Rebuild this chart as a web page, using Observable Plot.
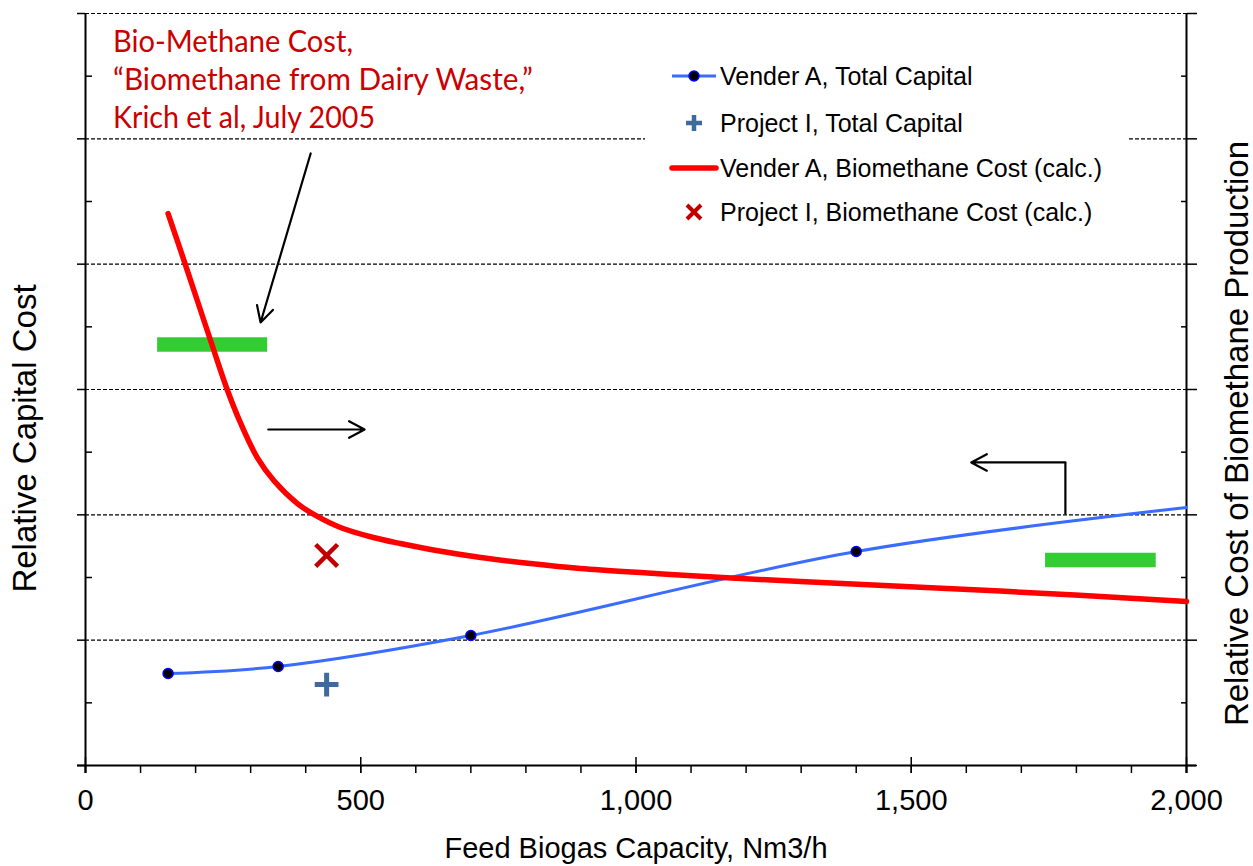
<!DOCTYPE html>
<html>
<head>
<meta charset="utf-8">
<script src="https://cdn.jsdelivr.net/npm/d3@7"></script>
<script src="https://cdn.jsdelivr.net/npm/@observablehq/plot@0.6"></script>
<style>
  html, body { margin: 0; padding: 0; background: #fff; }
  #wrap { position: relative; width: 1253px; height: 866px; }
</style>
</head>
<body>
<div id="wrap"></div>
<script>
// ---------- data ----------
// Vendor A, total capital (blue line with markers)
const vendorCapacity = [150, 350, 700, 1400];
const vendorCapital  = [0.734, 0.790, 1.037, 1.707];
// blue line also runs on to the right edge
const capitalLineX = [150, 350, 700, 1400, 2000];
const capitalLineY = [0.734, 0.790, 1.037, 1.707, 2.059];

// Vendor A, biomethane cost (calc.) – red curve
const costCurveX = [150, 182, 229, 258, 282, 312, 342, 385, 418, 463, 523, 572, 627, 718, 808, 899, 1021, 1141, 1299, 1662, 2000];
const costCurveY = [4.404, 3.989, 3.367, 2.992, 2.729, 2.457, 2.274, 2.090, 1.995, 1.899, 1.819, 1.771, 1.724, 1.660, 1.612, 1.572, 1.536, 1.504, 1.468, 1.392, 1.309];

// Project I
const projectCapacity = [438];
const projectCapital  = [0.646];
const projectCost     = [1.676];

// Literature ranges (green bars)
const litX1 = [131, 1744];
const litX2 = [331, 1945];
const litY  = [3.359, 1.640];

// Annotation arrows
const arrowX1 = [409, 332, 1780];
const arrowY1 = [4.883, 2.681, 2.418];
const arrowX2 = [318, 507, 1609];
const arrowY2 = [3.535, 2.681, 2.418];
const connectorX = [1780];
const connectorY1 = [2.003];
const connectorY2 = [2.418];

// Axis ticks
const xMajorTicks = [0, 500, 1000, 1500, 2000];
const xMinorTicks = [0, 100, 200, 300, 400, 500, 600, 700, 800, 900, 1000, 1100, 1200, 1300, 1400, 1500, 1600, 1700, 1800, 1900, 2000];
const yMajorTicks = [0, 1, 2, 3, 4, 5, 6];
const yMinorTicks = [0.5, 1.5, 2.5, 3.5, 4.5, 5.5];
const gridLines   = [1, 2, 3, 4, 5, 6];

// Texts
const xTitle  = "Feed Biogas Capacity, Nm3/h";
const yTitle  = "Relative Capital Cost";
const y2Title = "Relative Cost of Biomethane Production";
const noteLines = ["Bio-Methane Cost,", "\u201CBiomethane from Dairy Waste,\u201D", "Krich et al, July 2005"];
const legendLabels = ["Vender A, Total Capital", "Project I, Total Capital", "Vender A, Biomethane Cost (calc.)", "Project I, Biomethane Cost (calc.)"];

// ---------- tables ----------
const vendorPts = vendorCapacity.map((x, i) => ({x, y: vendorCapital[i]}));
const capLine = capitalLineX.map((x, i) => ({x, y: capitalLineY[i]}));
const costLine = costCurveX.map((x, i) => ({x, y: costCurveY[i]}));
const projCap = projectCapacity.map((x, i) => ({x, y: projectCapital[i]}));
const projCost = projectCapacity.map((x, i) => ({x, y: projectCost[i]}));
const litBars = litX1.map((x1, i) => ({x1, x2: litX2[i], y: litY[i]}));
const arrows = arrowX1.map((x1, i) => ({x1, y1: arrowY1[i], x2: arrowX2[i], y2: arrowY2[i]}));
const connectors = connectorX.map((x, i) => ({x, y1: connectorY1[i], y2: connectorY2[i]}));

const FONT = "Liberation Sans, Arial, sans-serif";
const BLUE = "#3a6cff";
const RED = "#ff0000";
const fmtComma = d3.format(",");

const chart = Plot.plot({
  width: 1253,
  height: 866,
  marginLeft: 85,
  marginRight: 67,
  marginTop: 13,
  marginBottom: 101,
  style: {fontFamily: FONT, background: "white", color: "black", overflow: "visible"},
  x: {domain: [0, 2000], label: null},
  y: {domain: [0, 6], label: null},
  marks: [
    // dashed gridlines
    Plot.ruleY(gridLines, {stroke: "black", strokeWidth: 1.1, strokeDasharray: "4,2"}),
    // axis lines
    Plot.ruleY([0], {stroke: "black", strokeWidth: 2, insetLeft: -8, insetRight: -10}),
    Plot.ruleX([0], {stroke: "black", strokeWidth: 2, insetBottom: -8}),
    Plot.ruleX([2000], {stroke: "black", strokeWidth: 2, insetBottom: -8}),
    // x ticks
    Plot.axisX({ticks: xMinorTicks, tickSize: 8, tickFormat: () => "", strokeWidth: 1.5, label: null}),
    Plot.axisX({ticks: xMajorTicks, tickSize: 16, dy: -8, tickFormat: () => "", strokeWidth: 1.5, label: null}),
    // x tick labels
    Plot.text(xMajorTicks, {x: (d) => d, text: (d) => fmtComma(d), frameAnchor: "bottom", dy: 44, fontSize: 29, fill: "black", fontFamily: FONT}),
    // left y ticks
    Plot.axisY({anchor: "left", ticks: yMajorTicks, tickSize: 8, tickFormat: () => "", strokeWidth: 1.5, label: null}),
    Plot.axisY({anchor: "left", ticks: yMinorTicks, tickSize: 7, dx: 7, tickFormat: () => "", strokeWidth: 1.5, label: null}),
    // right y ticks
    Plot.axisY({anchor: "right", ticks: yMajorTicks, tickSize: 10, tickFormat: () => "", strokeWidth: 1.5, label: null}),
    Plot.axisY({anchor: "right", ticks: yMinorTicks, tickSize: 6, dx: -6, tickFormat: () => "", strokeWidth: 1.5, label: null}),
    // literature bars
    Plot.ruleY(litBars, {x1: "x1", x2: "x2", y: "y", stroke: "#33cc33", strokeWidth: 14.5}),
    // capital line
    Plot.line(capLine, {x: "x", y: "y", stroke: BLUE, strokeWidth: 3, curve: "catmull-rom"}),
    Plot.dot(vendorPts, {x: "x", y: "y", r: 5, fill: "black", stroke: "#0000ff", strokeWidth: 1.5}),
    // cost curve
    Plot.line(costLine, {x: "x", y: "y", stroke: RED, strokeWidth: 5.5, curve: "catmull-rom"}),
    // project points
    Plot.dot(projCap, {x: "x", y: "y", symbol: "plus", r: 7.7, stroke: "#3f6a9e", strokeWidth: 5}),
    Plot.dot(projCost, {x: "x", y: "y", symbol: "times", r: 10, stroke: "#c00000", strokeWidth: 4.5}),
    // annotation arrows
    Plot.link(connectors, {x: "x", y1: "y1", y2: "y2", stroke: "black", strokeWidth: 2.2}),
    Plot.arrow(arrows, {x1: "x1", y1: "y1", x2: "x2", y2: "y2", stroke: "black", strokeWidth: 2.2, headLength: 12, headAngle: 56}),
    // axis titles
    Plot.text([xTitle], {frameAnchor: "bottom", dy: 92, fontSize: 29, fill: "black", fontFamily: FONT}),
    Plot.text([yTitle], {frameAnchor: "left", textAnchor: "middle", rotate: -90, dx: -60, dy: 49, fontSize: 33, fill: "black", fontFamily: FONT}),
    Plot.text([y2Title], {frameAnchor: "right", textAnchor: "middle", rotate: -90, dx: 51, dy: 44, fontSize: 33, fill: "black", fontFamily: FONT})
  ]
});

document.getElementById("wrap").appendChild(chart);

// ---------- in-plot annotation text and legend ----------
const svg = d3.select(chart);
const note = svg.append("g").attr("font-family", "Lato, 'Open Sans', sans-serif").attr("fill", "#cc0000")
  .attr("font-size", 31).attr("text-anchor", "start");
const noteBaselines = [52, 90, 128];
const noteWidths = [240, 420, 262];
noteLines.forEach((t, i) => {
  note.append("text").attr("x", 113).attr("y", noteBaselines[i]).attr("text-anchor", "start")
    .attr("textLength", noteWidths[i]).attr("lengthAdjust", "spacingAndGlyphs").text(t);
});

const leg = svg.append("g").attr("font-family", FONT).attr("font-size", 25).attr("fill", "black").attr("text-anchor", "start");
leg.append("rect").attr("x", 645).attr("y", 48).attr("width", 482).attr("height", 187).attr("fill", "white");
const rowY = [76, 123, 168, 212];
// row 1: blue line + marker
leg.append("line").attr("x1", 672).attr("x2", 716).attr("y1", rowY[0]).attr("y2", rowY[0]).attr("stroke", BLUE).attr("stroke-width", 3);
leg.append("circle").attr("cx", 694).attr("cy", rowY[0]).attr("r", 5).attr("fill", "black").attr("stroke", "#0000ff").attr("stroke-width", 1.5);
// row 2: plus
leg.append("path").attr("d", `M${686},${rowY[1]}h16M${694},${rowY[1]-8}v16`).attr("stroke", "#3f6a9e").attr("stroke-width", 4.5).attr("fill", "none");
// row 3: red line
leg.append("line").attr("x1", 672).attr("x2", 716).attr("y1", rowY[2]).attr("y2", rowY[2]).attr("stroke", RED).attr("stroke-width", 5.5).attr("stroke-linecap", "round");
// row 4: times
leg.append("path").attr("d", `M${687},${rowY[3]-7}l14,14M${701},${rowY[3]-7}l-14,14`).attr("stroke", "#c00000").attr("stroke-width", 4).attr("fill", "none");
legendLabels.forEach((t, i) => {
  leg.append("text").attr("x", 720).attr("y", rowY[i]).attr("dy", "0.35em").attr("text-anchor", "start").text(t);
});
</script>
</body>
</html>
